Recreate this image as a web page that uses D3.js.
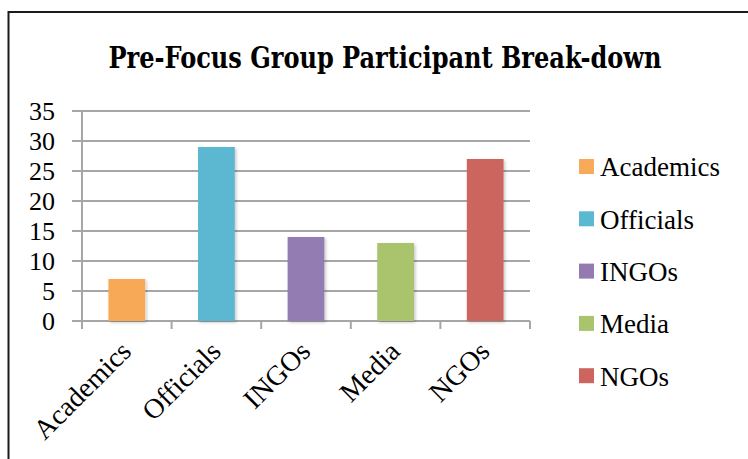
<!DOCTYPE html>
<html><head><meta charset="utf-8">
<script src="https://cdn.jsdelivr.net/npm/d3@7"></script>
<style>html,body{margin:0;padding:0;background:#fff;}</style>
</head><body>
<script>
const categories = ["Academics","Officials","INGOs","Media","NGOs"];
const values = [7,29,14,13,27];
const colors = ["#F8A959","#5BB8D1","#937BB1","#A9C46D","#CD655E"];
const yTicks = [0,5,10,15,20,25,30,35];
const title = "Pre-Focus Group Participant Break-down";

const W=748,H=459;
const svg=d3.select("body").append("svg").attr("width",W).attr("height",H);
const defs=svg.append("defs");
const f=defs.append("filter").attr("id","sh").attr("x","-20%").attr("y","-10%").attr("width","150%").attr("height","130%");
f.append("feDropShadow").attr("dx",1.5).attr("dy",1.5).attr("stdDeviation",1.5).attr("flood-color","#000").attr("flood-opacity",0.22);

// border (left and top only visible)
svg.append("path").attr("d","M8.5,459 V12 H748").attr("fill","none").attr("stroke","#1a1a1a").attr("stroke-width",2);

svg.append("text").attr("x",385).attr("y",68).attr("text-anchor","middle")
  .attr("font-family","'DejaVu Serif Condensed','DejaVu Serif',serif").attr("font-weight","bold")
  .attr("font-size",29).attr("textLength",553).attr("lengthAdjust","spacingAndGlyphs")
  .attr("fill","#000").text(title);

const x=d3.scaleBand().domain(categories).range([82,530]).paddingInner(0.59).paddingOuter(0.295);
const y=d3.scaleLinear().domain([0,35]).range([321,111]);

const font="'Liberation Serif','Times New Roman',serif";
// gridlines
svg.append("g").selectAll("line").data(yTicks).join("line")
  .attr("x1",72).attr("x2",530).attr("y1",d=>y(d)).attr("y2",d=>y(d))
  .attr("stroke","#a6a6a6").attr("stroke-width",2);
// y axis line
svg.append("line").attr("x1",82).attr("x2",82).attr("y1",y(35)).attr("y2",y(0)+8).attr("stroke","#a6a6a6").attr("stroke-width",2);
// x ticks at boundaries
const step=x.step();
const bounds=d3.range(categories.length+1).map(i=>82+i*step);
svg.append("g").selectAll("line").data(bounds).join("line")
  .attr("x1",d=>d).attr("x2",d=>d).attr("y1",y(0)).attr("y2",y(0)+8)
  .attr("stroke","#a6a6a6").attr("stroke-width",2);
// y labels
svg.append("g").selectAll("text").data(yTicks).join("text")
  .attr("x",55).attr("y",d=>y(d)).attr("dy","0.34em").attr("text-anchor","end")
  .attr("font-family",font).attr("font-size",26).attr("fill","#000").text(d=>d);

// bars
svg.append("g").selectAll("rect").data(values).join("rect")
  .attr("x",(d,i)=>x(categories[i])).attr("width",x.bandwidth())
  .attr("y",d=>y(d)).attr("height",d=>y(0)-y(d))
  .attr("fill",(d,i)=>colors[i]).attr("filter","url(#sh)");

// x labels
svg.append("g").selectAll("text").data(categories).join("text")
  .attr("transform",d=>`translate(${x(d)+x.bandwidth()/2+6},${y(0)+32}) rotate(-45)`)
  .attr("text-anchor","end").attr("font-family",font).attr("font-size",28).attr("fill","#000").text(d=>d);

// legend
const lg=svg.append("g").selectAll("g").data(categories).join("g")
  .attr("transform",(d,i)=>`translate(579,${166.3+i*52.3})`);
lg.append("rect").attr("x",0).attr("y",-7.3).attr("width",15).attr("height",15).attr("fill",(d,i)=>colors[i]);
lg.append("text").attr("x",21).attr("y",10).attr("font-family",font).attr("font-size",27).attr("fill","#000").text(d=>d);
</script>
</body></html>
